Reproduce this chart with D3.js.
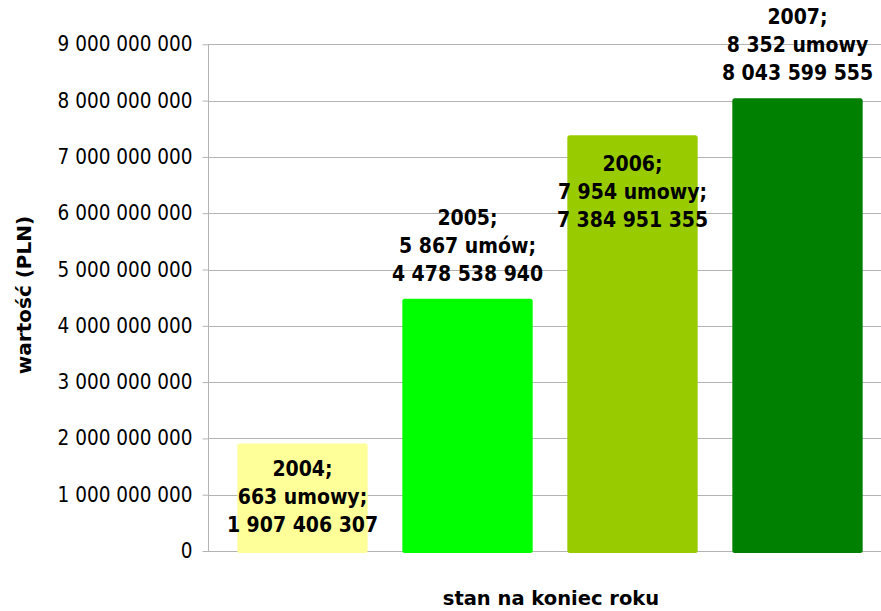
<!DOCTYPE html>
<html>
<head>
<meta charset="utf-8">
<script src="https://cdn.jsdelivr.net/npm/d3@7"></script>
<style>
  body { margin: 0; background: #fff; }
  text { font-family: "DejaVu Sans Condensed", "DejaVu Sans", sans-serif; font-stretch: condensed; }
  text.title { font-family: "DejaVu Sans", sans-serif; font-stretch: normal; }
</style>
</head>
<body>
<script>
//chart data
var years = ["2004", "2005", "2006", "2007"];
var contracts = ["663 umowy;", "5 867 umów;", "7 954 umowy;", "8 352 umowy"];
var values = [1907406307, 4478538940, 7384951355, 8043599555];
var colors = ["#ffff99", "#00ff00", "#99cc00", "#008000"];
var labelPlacement = ["center", "outside", "insideTop", "outside"];
var yTicks = [0, 1e9, 2e9, 3e9, 4e9, 5e9, 6e9, 7e9, 8e9, 9e9];

window.onload = drawChart();

function drawChart(){
    var width = 881,
        height = 611;

    var svg = d3.select("body")
        .append("svg")
        .attr("width", width)
        .attr("height", height);

    //scales
    var x = d3.scaleBand()
        .domain(years)
        .range([220, 880])
        .paddingInner(0.21)
        .paddingOuter(0.105);

    var y = d3.scaleLinear()
        .domain([0, 9e9])
        .range([551, 44.3]);

    var fmt = function(v){
        return d3.format(",d")(v).replace(/,/g, " ");
    };

    //gridlines
    svg.append("g")
        .selectAll("line")
        .data(yTicks)
        .enter()
        .append("line")
        .attr("x1", 208)
        .attr("x2", width)
        .attr("y1", function(d){ return Math.round(y(d)) + 0.5; })
        .attr("y2", function(d){ return Math.round(y(d)) + 0.5; })
        .attr("stroke", "#b3b3b3")
        .attr("stroke-width", 1);

    //y axis
    var yAxis = d3.axisLeft(y)
        .tickValues(yTicks)
        .tickSize(6)
        .tickPadding(10)
        .tickFormat(fmt);

    var gy = svg.append("g")
        .attr("transform", "translate(208.5,0)")
        .call(yAxis);
    gy.select(".domain").remove();
    gy.selectAll(".tick line").attr("stroke", "#b3b3b3");
    gy.selectAll(".tick text")
        .attr("font-size", "20.5px")
        .attr("fill", "#000")
        .style("font-family", "'DejaVu Sans Condensed', 'DejaVu Sans', sans-serif");
    gy.append("line")
        .attr("x1", 0).attr("x2", 0)
        .attr("y1", y(9e9)).attr("y2", y(0))
        .attr("stroke", "#b3b3b3");

    //bars
    svg.append("g")
        .selectAll("rect")
        .data(values)
        .enter()
        .append("rect")
        .attr("x", function(d, i){ return x(years[i]); })
        .attr("width", x.bandwidth())
        .attr("y", function(d){ return y(d); })
        .attr("height", function(d){ return y(0) - y(d) + 2; })
        .attr("rx", 2.5)
        .attr("fill", function(d, i){ return colors[i]; });

    //data labels
    var lineH = 28;
    var labels = svg.append("g")
        .selectAll("text")
        .data(values)
        .enter()
        .append("text")
        .attr("text-anchor", "middle")
        .attr("font-size", "21px")
        .attr("font-weight", "bold")
        .attr("fill", "#000")
        .attr("transform", function(d, i){
            var cx = x(years[i]) + x.bandwidth() / 2;
            var top = y(d), base;
            if (labelPlacement[i] === "center") {
                base = (top + y(0)) / 2 + 7 - lineH;
            } else if (labelPlacement[i] === "insideTop") {
                base = top + 36;
            } else {
                base = top - 18 - 2 * lineH;
            }
            return "translate(" + cx + "," + base + ")";
        });

    labels.each(function(d, i){
        var t = d3.select(this);
        [years[i] + ";", contracts[i], fmt(d)].forEach(function(s, k){
            t.append("tspan")
                .attr("x", 0)
                .attr("y", k * lineH)
                .text(s);
        });
    });

    //axis titles
    svg.append("text")
        .attr("class", "title")
        .attr("transform", "translate(31,295) rotate(-90)")
        .attr("text-anchor", "middle")
        .attr("font-size", "20px")
        .attr("font-weight", "bold")
        .text("wartość (PLN)");

    svg.append("text")
        .attr("class", "title")
        .attr("x", 551)
        .attr("y", 605)
        .attr("text-anchor", "middle")
        .attr("font-size", "19.5px")
        .attr("font-weight", "bold")
        .text("stan na koniec roku");
}
</script>
</body>
</html>
